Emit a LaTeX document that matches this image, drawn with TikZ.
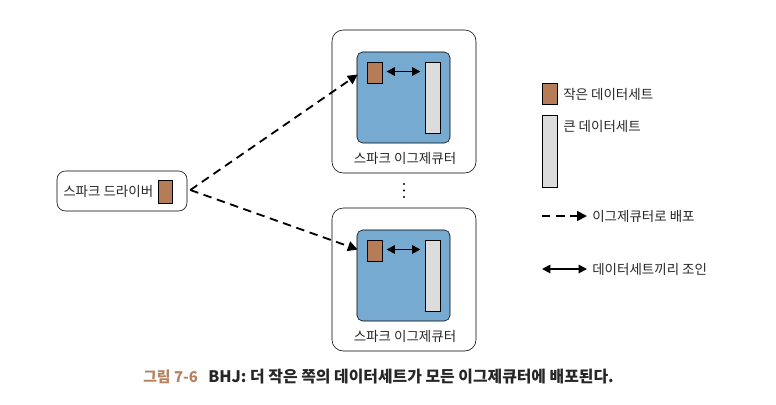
\documentclass[tikz,border=0pt]{standalone}
\usepackage{fontspec}
\setmainfont{Noto Sans CJK KR}
\usepackage{xcolor}
\usetikzlibrary{arrows.meta,positioning,calc}
\definecolor{brownset}{RGB}{182,124,88}
\definecolor{blueexec}{RGB}{118,170,208}
\definecolor{grayset}{RGB}{220,220,220}
\definecolor{capbrown}{RGB}{181,131,95}
\begin{document}
\begin{tikzpicture}[x=0.025cm, y=-0.025cm, font=\fontsize{9.6}{11}\selectfont, text=black!85,
outer box/.style={draw, rounded corners=8pt, minimum width=3.6cm, minimum height=3.575cm},
blue box/.style={draw, fill=blueexec, rounded corners=4pt, minimum width=2.325cm, minimum height=2.275cm},
small set/.style={draw, fill=brownset, minimum width=0.375cm, minimum height=0.525cm, inner sep=0pt},
big set/.style={draw, fill=grayset, minimum width=0.375cm, minimum height=1.775cm, inner sep=0pt},
send arrow/.style={-{Triangle[length=7pt,width=7pt]}, line width=1.3pt, dash pattern=on 6pt off 4pt},
join arrow/.style={{Triangle[length=6pt,width=6pt]}-{Triangle[length=6pt,width=6pt]}, line width=1.3pt},
dot/.style={circle, fill, inner sep=0pt, minimum size=1.6pt}]
\useasboundingbox (0,0) rectangle (776,404);
% driver
\node[draw, rounded corners=6pt, minimum width=3.25cm, minimum height=1cm] (driver) at (122,191) {};
\node[anchor=west, inner sep=0pt] (drivertext) at (63,191) {스파크 드라이버};
\node[small set, minimum width=0.35cm, minimum height=0.575cm] (d1) at (165,191.5) {};
% executors
\foreach \n/\dy in {top/0, bot/178}{
\node[outer box] (exec\n) at (404,101.5+\dy) {};
\node[blue box] (blue\n) at (403.5,97.5+\dy) {};
\node[small set] (small\n) at (374.5,72.5+\dy) {};
\node[big set] (big\n) at (432.5,97.5+\dy) {};
\node (label\n) at (405,158+\dy) {스파크 이그제큐터};
\draw[join arrow, shorten <=3pt, shorten >=3pt] ($(small\n.east)+(0,-1)$) -- ($(small\n.east-|big\n.west)+(0,-1)$);
}
\foreach \i/\y in {1/184,2/190.5,3/197}
  \node[dot] (dot\i) at (404,\y) {};
% dashed arrows
\coordinate (ds) at ($(driver.east)+(3,-1)$);
\draw[send arrow] (ds) -- ($(smalltop.west)+(-9,2)$);
\draw[send arrow] (ds) -- ($(smallbot.west)+(-9,-1)$);
% legend
\node[small set] (lsmall) at (549.5,93.5) {};
\node[anchor=west, inner sep=0pt] (lsmalltext) at (563,94) {작은 데이터세트};
\node[big set, minimum height=1.8cm] (lbig) at (549.5,151) {};
\node[anchor=west, inner sep=0pt] (lbigtext) at (563,126) {큰 데이터세트};
\coordinate (ls1) at (542,216);
\coordinate (ls2) at (587,216);
\draw[send arrow] (ls1) -- (ls2);
\node[anchor=west, inner sep=0pt] (lsendtext) at (592,216) {이그제큐터로 배포};
\coordinate (lj1) at (542,269);
\coordinate (lj2) at (587,269);
\draw[join arrow] (lj1) -- (lj2);
\node[anchor=west, inner sep=0pt] (ljointext) at (592,269) {데이터세트끼리 조인};
% caption
\node[anchor=west, inner sep=0pt, font=\fontsize{10.6}{12}\selectfont\bfseries, text=capbrown] (capnum) at (143,377) {그림 7-6};
\node[anchor=west, inner sep=0pt, font=\fontsize{11.3}{13}\selectfont\bfseries] (captext) at (208,377) {BHJ: 더 작은 쪽의 데이터세트가 모든 이그제큐터에 배포된다.};
\end{tikzpicture}
\end{document}
